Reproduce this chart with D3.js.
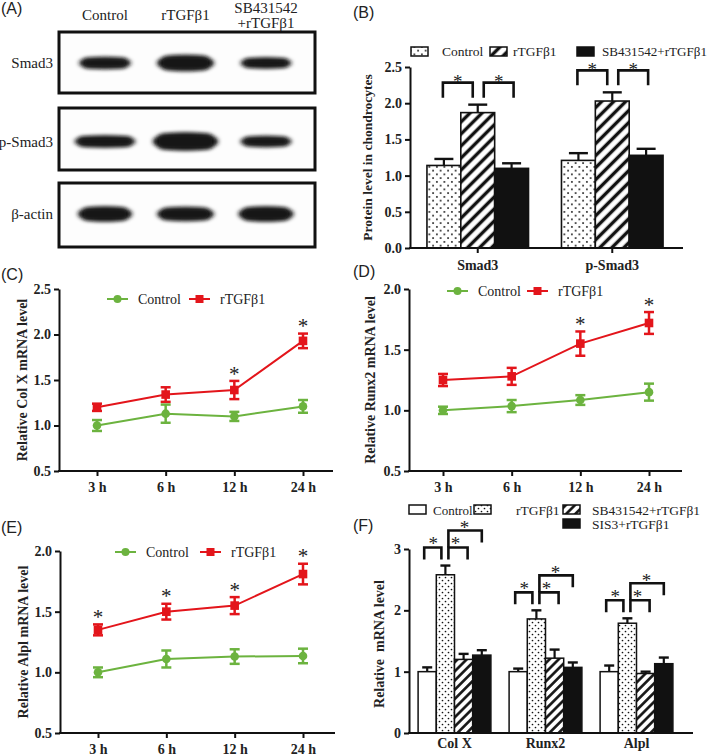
<!DOCTYPE html>
<html><head><meta charset="utf-8">
<script src="https://cdn.jsdelivr.net/npm/d3@7"></script>
<style>body{margin:0;background:#fff;} svg{display:block;}</style>
</head><body><svg id="fig" width="709" height="756"></svg>
<script>
// ================= DATA =================
// (A) western blot: band widths / thicknesses per lane
const blotLanes = ["Control", "rTGFβ1", "SB431542+rTGFβ1"];
const blotRows = ["Smad3", "p-Smad3", "β-actin"];
const bandWidthSmad3 = [53, 58, 52];
const bandThickSmad3 = [9, 13, 8];
const bandWidthPSmad3 = [62, 66, 52];
const bandThickPSmad3 = [9, 15, 8];
const bandWidthActin = [55, 58, 56];
const bandThickActin = [12, 11, 12];

// (B) protein level
const proteinGroups = ["Smad3", "p-Smad3"];
const proteinSeries = ["Control", "rTGFβ1", "SB431542+rTGFβ1"];
const proteinControl = [1.14, 1.21];
const proteinControlErr = [0.09, 0.10];
const proteinTGF = [1.87, 2.03];
const proteinTGFErr = [0.11, 0.12];
const proteinSB = [1.10, 1.28];
const proteinSBErr = [0.07, 0.09];
const proteinTicks = [0.0, 0.5, 1.0, 1.5, 2.0, 2.5];

// (C)(D)(E) time courses
const timeLabels = ["3 h", "6 h", "12 h", "24 h"];
const colXControl = [1.00, 1.13, 1.10, 1.21];
const colXControlErr = [0.06, 0.10, 0.05, 0.07];
const colXTGF = [1.20, 1.34, 1.39, 1.93];
const colXTGFErr = [0.04, 0.08, 0.10, 0.08];
const colXStars = [false, false, true, true];
const colXTicks = [0.5, 1.0, 1.5, 2.0, 2.5];

const runx2Control = [1.00, 1.035, 1.085, 1.15];
const runx2ControlErr = [0.03, 0.05, 0.04, 0.07];
const runx2TGF = [1.25, 1.28, 1.55, 1.72];
const runx2TGFErr = [0.05, 0.07, 0.10, 0.09];
const runx2Stars = [false, false, true, true];
const runx2Ticks = [0.5, 1.0, 1.5, 2.0];

const alplControl = [1.00, 1.11, 1.13, 1.135];
const alplControlErr = [0.04, 0.07, 0.06, 0.06];
const alplTGF = [1.35, 1.50, 1.55, 1.81];
const alplTGFErr = [0.045, 0.065, 0.07, 0.085];
const alplStars = [true, true, true, true];
const alplTicks = [0.5, 1.0, 1.5, 2.0];

// (F) relative mRNA
const mrnaGenes = ["Col X", "Runx2", "Alpl"];
const mrnaSeries = ["Control", "rTGFβ1", "SB431542+rTGFβ1", "SIS3+rTGFβ1"];
const mrnaControl = [1.00, 1.00, 1.00];
const mrnaControlErr = [0.07, 0.05, 0.10];
const mrnaTGF = [2.58, 1.86, 1.79];
const mrnaTGFErr = [0.15, 0.14, 0.08];
const mrnaSB = [1.20, 1.22, 0.97];
const mrnaSBErr = [0.09, 0.14, 0.03];
const mrnaSIS3 = [1.27, 1.07, 1.13];
const mrnaSIS3Err = [0.08, 0.08, 0.10];
const mrnaTicks = [0, 1, 2, 3];

// ================= DRAWING =================
const SERIF = "Liberation Serif, Times New Roman, serif";
const SANS = "Liberation Sans, Arial, sans-serif";
const GREEN = "#6cb33f", RED = "#e3151b", INK = "#111";
const svg = d3.select("#fig");
const defs = svg.append("defs");

// patterns
function dotPattern(id, s, r) {
  const p = defs.append("pattern").attr("id", id).attr("patternUnits", "userSpaceOnUse")
    .attr("width", s).attr("height", s);
  p.append("rect").attr("width", s).attr("height", s).attr("fill", "#fff");
  p.append("circle").attr("cx", s * 0.25).attr("cy", s * 0.25).attr("r", r).attr("fill", INK);
  p.append("circle").attr("cx", s * 0.75).attr("cy", s * 0.75).attr("r", r).attr("fill", INK);
}
function hatchPattern(id, s, w) {
  const p = defs.append("pattern").attr("id", id).attr("patternUnits", "userSpaceOnUse")
    .attr("width", s).attr("height", s).attr("patternTransform", "rotate(45)");
  p.append("rect").attr("width", s).attr("height", s).attr("fill", "#fff");
  p.append("line").attr("x1", s / 2).attr("x2", s / 2).attr("y1", 0).attr("y2", s)
    .attr("stroke", INK).attr("stroke-width", w);
}
dotPattern("dotsB", 7.5, 0.95);
hatchPattern("hatchB", 8.5, 3.4);
dotPattern("dotsF", 6, 0.85);
hatchPattern("hatchF", 6.5, 2.6);
const blur = defs.append("filter").attr("id", "blur").attr("x", "-20%").attr("y", "-80%")
  .attr("width", "140%").attr("height", "260%");
blur.append("feGaussianBlur").attr("stdDeviation", 2);

function txt(g, x, y, s, opts = {}) {
  const t = g.append("text").attr("x", x).attr("y", y).text(s)
    .style("font-family", opts.family || SERIF).attr("font-size", opts.size || 14)
    .attr("fill", "#222").attr("text-anchor", opts.anchor || "start");
  if (opts.bold) t.attr("font-weight", "bold");
  if (opts.len) t.attr("textLength", opts.len).attr("lengthAdjust", "spacingAndGlyphs");
  return t;
}

// panel labels
const panelLabels = [["(A)", 1, 14], ["(B)", 353, 18], ["(C)", 1, 280], ["(D)", 353, 277], ["(E)", 1, 533], ["(F)", 353, 531]];
panelLabels.forEach(d => txt(svg, d[1], d[2], d[0], { family: SANS, size: 16 }));

// ---------- (A) Western blot ----------
(function () {
  const g = svg.append("g");
  const x = d3.scalePoint().domain(blotLanes).range([105, 266]);
  const rowY = d3.scalePoint().domain(blotRows).range([63, 214]);
  const boxes = [[32, 93], [108, 170], [183, 247]];
  const widths = [bandWidthSmad3, bandWidthPSmad3, bandWidthActin];
  const thick = [bandThickSmad3, bandThickPSmad3, bandThickActin];
  blotRows.forEach((row, i) => {
    g.append("rect").attr("x", 59).attr("y", boxes[i][0]).attr("width", 256)
      .attr("height", boxes[i][1] - boxes[i][0]).attr("fill", "#fdfdfd")
      .attr("stroke", INK).attr("stroke-width", 3);
    const cy = rowY(row) + (i === 1 ? 3 : 0);
    g.selectAll(null).data(blotLanes).join("ellipse")
      .attr("cx", d => x(d))
      .attr("cy", cy)
      .attr("rx", (d, j) => widths[i][j] / 2)
      .attr("ry", (d, j) => thick[i][j] / 2 + 1)
      .attr("fill", "#141414").attr("filter", "url(#blur)");
    g.selectAll(null).data(blotLanes).join("rect")
      .attr("x", (d, j) => x(d) - widths[i][j] / 2 + 4)
      .attr("y", (d, j) => cy - thick[i][j] / 2)
      .attr("width", (d, j) => widths[i][j] - 8)
      .attr("height", (d, j) => thick[i][j])
      .attr("rx", (d, j) => thick[i][j] / 2)
      .attr("fill", "#141414").attr("filter", "url(#blur)");
    txt(g, 53, cy + 5, row, { size: 15, anchor: "end" });
  });
  txt(g, x(blotLanes[0]), 20, blotLanes[0], { size: 15, anchor: "middle" });
  txt(g, x(blotLanes[1]), 20, blotLanes[1], { size: 15, anchor: "middle" });
  txt(g, x(blotLanes[2]), 13, "SB431542", { size: 15, anchor: "middle" });
  txt(g, x(blotLanes[2]), 28, "+rTGFβ1", { size: 15, anchor: "middle" });
})();

// ---------- axis styling helper ----------
function styleAxis(sel, fs) {
  sel.attr("font-family", null);
  sel.select(".domain").attr("stroke", INK).attr("stroke-width", 2);
  sel.selectAll(".tick line").attr("stroke", INK).attr("stroke-width", 2);
  sel.selectAll(".tick text").style("font-family", SERIF).attr("font-weight", "bold")
    .attr("font-size", fs).attr("fill", "#222");
}
function star(g, x, y, size) {
  txt(g, x, y + size * 0.6, "*", { size: size, anchor: "middle" });
}

// ---------- line panels (C)(D)(E) ----------
function linePanel(c) {
  const g = svg.append("g");
  const y = d3.scaleLinear().domain([c.ticks[0], c.ticks[c.ticks.length - 1]]).range([c.yBottom, c.yTop]);
  const x = d3.scalePoint().domain(timeLabels).range(c.xRange);
  const ya = g.append("g").attr("transform", `translate(${c.axisX},0)`)
    .call(d3.axisLeft(y).tickValues(c.ticks).tickFormat(d3.format(".1f")).tickSize(5).tickSizeOuter(0));
  styleAxis(ya, 14);
  const xa = g.append("g").attr("transform", `translate(0,${c.yBottom})`)
    .call(d3.axisBottom(x).tickSize(5).tickSizeOuter(0).tickPadding(6));
  styleAxis(xa, 14);
  xa.select(".domain").remove();
  g.append("line").attr("x1", c.axisX - 1).attr("x2", c.axisEnd).attr("y1", c.yBottom).attr("y2", c.yBottom)
    .attr("stroke", INK).attr("stroke-width", 2);
  txt(g, 0, 0, c.title, { size: 14, bold: true, anchor: "middle" })
    .attr("transform", `translate(${c.titleX},${(c.yTop + c.yBottom) / 2}) rotate(-90)`);

  const series = [
    { v: c.ctrl, e: c.ctrlErr, col: GREEN, shape: "circle" },
    { v: c.tgf, e: c.tgfErr, col: RED, shape: "square" }
  ];
  const line = d3.line().x((d, i) => x(timeLabels[i])).y(d => y(d));
  series.forEach(s => {
    g.append("path").attr("d", line(s.v)).attr("fill", "none").attr("stroke", s.col).attr("stroke-width", 2);
    s.v.forEach((v, i) => {
      const xi = x(timeLabels[i]);
      g.append("line").attr("x1", xi).attr("x2", xi).attr("y1", y(v - s.e[i])).attr("y2", y(v + s.e[i]))
        .attr("stroke", s.col).attr("stroke-width", 2.5);
      [v - s.e[i], v + s.e[i]].forEach(ev => g.append("line").attr("x1", xi - 5).attr("x2", xi + 5)
        .attr("y1", y(ev)).attr("y2", y(ev)).attr("stroke", s.col).attr("stroke-width", 2.5));
      if (s.shape === "circle") g.append("circle").attr("cx", xi).attr("cy", y(v)).attr("r", 4.3).attr("fill", s.col);
      else g.append("rect").attr("x", xi - 4.3).attr("y", y(v) - 4.3).attr("width", 8.6).attr("height", 8.6).attr("fill", s.col);
    });
  });
  c.stars.forEach((s, i) => { if (s) star(g, x(timeLabels[i]), y(c.tgf[i] + c.tgfErr[i]) - 13, 21); });

  // legend
  const lg = g.append("g").attr("transform", `translate(${c.legX},${c.legY})`);
  [[GREEN, "circle", "Control", 0], [RED, "square", "rTGFβ1", c.legStep]].forEach(([col, sh, lab, dx]) => {
    lg.append("line").attr("x1", dx).attr("x2", dx + 21).attr("stroke", col).attr("stroke-width", 2);
    if (sh === "circle") lg.append("circle").attr("cx", dx + 10.5).attr("r", 4).attr("fill", col);
    else lg.append("rect").attr("x", dx + 6.5).attr("y", -4).attr("width", 8).attr("height", 8).attr("fill", col);
    txt(lg, dx + 31, 5, lab, { size: 14 });
  });
}

linePanel({ axisX: 59, axisEnd: 333, yTop: 289, yBottom: 471, xRange: [97, 303], ticks: colXTicks,
  ctrl: colXControl, ctrlErr: colXControlErr, tgf: colXTGF, tgfErr: colXTGFErr, stars: colXStars,
  title: "Relative Col X mRNA level", titleX: 27, legX: 107, legY: 299, legStep: 82 });
linePanel({ axisX: 409, axisEnd: 682, yTop: 289, yBottom: 471, xRange: [443, 649], ticks: runx2Ticks,
  ctrl: runx2Control, ctrlErr: runx2ControlErr, tgf: runx2TGF, tgfErr: runx2TGFErr, stars: runx2Stars,
  title: "Relative Runx2 mRNA level", titleX: 375, legX: 447, legY: 291, legStep: 80 });
linePanel({ axisX: 60, axisEnd: 335, yTop: 551, yBottom: 733, xRange: [98, 303], ticks: alplTicks,
  ctrl: alplControl, ctrlErr: alplControlErr, tgf: alplTGF, tgfErr: alplTGFErr, stars: alplStars,
  title: "Relative Alpl mRNA level", titleX: 28, legX: 115, legY: 552, legStep: 85 });

// ---------- bar panels ----------
function bracket(g, x1, x2, yTop, yLeg1, yLeg2) {
  g.append("path").attr("d", `M${x1},${yLeg1}V${yTop}H${x2}V${yLeg2}`)
    .attr("fill", "none").attr("stroke", INK).attr("stroke-width", 2.6);
}

// (B)
(function () {
  const g = svg.append("g");
  const axisX = 410, axisEnd = 683, yB = 248, yT = 67;
  const y = d3.scaleLinear().domain([0, 2.5]).range([yB, yT]);
  const x0 = d3.scaleBand().domain(proteinGroups).range([410, 680]).paddingInner(0.245).paddingOuter(0.126);
  const x1 = d3.scaleBand().domain(proteinSeries).range([0, x0.bandwidth()]);
  const vals = [proteinControl, proteinTGF, proteinSB];
  const errs = [proteinControlErr, proteinTGFErr, proteinSBErr];
  const fills = ["url(#dotsB)", "url(#hatchB)", INK];
  proteinGroups.forEach((grp, gi) => {
    proteinSeries.forEach((s, si) => {
      const bx = x0(grp) + x1(s), bw = x1.bandwidth(), v = vals[si][gi], e = errs[si][gi];
      const cx = bx + bw / 2;
      g.append("line").attr("x1", cx).attr("x2", cx).attr("y1", y(v)).attr("y2", y(v + e)).attr("stroke", INK).attr("stroke-width", 2.2);
      g.append("line").attr("x1", cx - 9.5).attr("x2", cx + 9.5).attr("y1", y(v + e)).attr("y2", y(v + e)).attr("stroke", INK).attr("stroke-width", 2.4);
      g.append("rect").attr("x", bx).attr("y", y(v)).attr("width", bw).attr("height", yB - y(v))
        .attr("fill", fills[si]).attr("stroke", INK).attr("stroke-width", 1.6);
    });
    const c = proteinSeries.map(s => x0(grp) + x1(s) + x1.bandwidth() / 2);
    const top = y(proteinTGF[gi] + proteinTGFErr[gi]);
    const leg = top - 7, bt = leg - 15;
    bracket(g, c[0] - 1, c[1] - 5, bt, leg, leg);
    bracket(g, c[1] + 6, c[2] + 2, bt, leg, leg);
    star(g, (c[0] + c[1]) / 2 - 3, bt - 6, 19);
    star(g, (c[1] + c[2]) / 2 + 4, bt - 6, 19);
  });
  const ya = g.append("g").attr("transform", `translate(${axisX},0)`)
    .call(d3.axisLeft(y).tickValues(proteinTicks).tickFormat(d3.format(".1f")).tickSize(5).tickSizeOuter(0));
  styleAxis(ya, 14);
  const xa = g.append("g").attr("transform", `translate(0,${yB})`)
    .call(d3.axisBottom(x0).tickSize(5).tickSizeOuter(0).tickPadding(7));
  styleAxis(xa, 14);
  xa.select(".domain").remove();
  g.append("line").attr("x1", axisX - 1).attr("x2", axisEnd).attr("y1", yB).attr("y2", yB).attr("stroke", INK).attr("stroke-width", 2);
  txt(g, 0, 0, "Protein level in chondrocytes", { size: 13.5, bold: true, anchor: "middle" })
    .attr("transform", `translate(372,${(yT + yB) / 2}) rotate(-90)`);
  // legend
  const legX = [411, 490, 577], legT = [442, 513, 602];
  proteinSeries.forEach((s, i) => {
    g.append("rect").attr("x", legX[i]).attr("y", 47).attr("width", 17).attr("height", 9)
      .attr("fill", fills[i]).attr("stroke", INK).attr("stroke-width", 1.5);
    txt(g, legT[i], 56, s, { size: 13.5, len: i === 2 ? 105 : null });
  });
})();

// (F)
(function () {
  const g = svg.append("g");
  const axisX = 409, axisEnd = 693, yB = 733, yT = 549;
  const y = d3.scaleLinear().domain([0, 3]).range([yB, yT]);
  const x0 = d3.scaleBand().domain(mrnaGenes).range([409, 682]).paddingInner(0.2).paddingOuter(0.1);
  const x1 = d3.scaleBand().domain(mrnaSeries).range([0, x0.bandwidth()]);
  const vals = [mrnaControl, mrnaTGF, mrnaSB, mrnaSIS3];
  const errs = [mrnaControlErr, mrnaTGFErr, mrnaSBErr, mrnaSIS3Err];
  const fills = ["#fff", "url(#dotsF)", "url(#hatchF)", INK];
  mrnaGenes.forEach((gene, gi) => {
    mrnaSeries.forEach((s, si) => {
      const bx = x0(gene) + x1(s), bw = x1.bandwidth(), v = vals[si][gi], e = errs[si][gi];
      const cx = bx + bw / 2;
      g.append("line").attr("x1", cx).attr("x2", cx).attr("y1", y(v)).attr("y2", y(v + e)).attr("stroke", INK).attr("stroke-width", 2.2);
      g.append("line").attr("x1", cx - 5).attr("x2", cx + 5).attr("y1", y(v + e)).attr("y2", y(v + e)).attr("stroke", INK).attr("stroke-width", 2.4);
      g.append("rect").attr("x", bx).attr("y", y(v)).attr("width", bw).attr("height", yB - y(v))
        .attr("fill", fills[si]).attr("stroke", INK).attr("stroke-width", 1.5);
    });
    const c = mrnaSeries.map(s => x0(gene) + x1(s) + x1.bandwidth() / 2);
    const top = y(mrnaTGF[gi] + mrnaTGFErr[gi]);
    const leg = top - 6, bt = leg - 12, bigT = bt - 17, bigLeg = bigT + 12;
    bracket(g, c[0] - 3, c[1] - 4, bt, leg, leg);
    bracket(g, c[1] + 3, c[2] + 4, bt, leg, leg);
    bracket(g, c[1] + 3, c[3], bigT, bt, bigLeg);
    star(g, (c[0] + c[1]) / 2 - 3, bt - 9, 19);
    star(g, (c[1] + c[2]) / 2 + 1, bt - 9, 19);
    star(g, (c[1] + c[3]) / 2 + 1, bigT - 8, 19);
  });
  const ya = g.append("g").attr("transform", `translate(${axisX},0)`)
    .call(d3.axisLeft(y).tickValues(mrnaTicks).tickFormat(d3.format("d")).tickSize(5).tickSizeOuter(0));
  styleAxis(ya, 14);
  const xa = g.append("g").attr("transform", `translate(0,${yB})`)
    .call(d3.axisBottom(x0).tickSize(0).tickSizeOuter(0).tickPadding(5));
  styleAxis(xa, 14);
  xa.select(".domain").remove();
  g.append("line").attr("x1", axisX - 1).attr("x2", axisEnd).attr("y1", yB).attr("y2", yB).attr("stroke", INK).attr("stroke-width", 2);
  txt(g, 0, 0, "Relative  mRNA level", { size: 14, bold: true, anchor: "middle" })
    .attr("xml:space", "preserve").style("white-space", "pre")
    .attr("transform", `translate(384,${(yT + yB) / 2 + 3}) rotate(-90)`);
  // legend
  const leg = [[409, 505, 433], [474, 505, 516], [563, 505, 592], [563, 519, 592]];
  mrnaSeries.forEach((s, i) => {
    g.append("rect").attr("x", leg[i][0]).attr("y", leg[i][1]).attr("width", 17).attr("height", 9)
      .attr("fill", fills[i]).attr("stroke", INK).attr("stroke-width", 1.5);
    txt(g, leg[i][2], leg[i][1] + 9.5, s, { size: i === 0 ? 13 : 13.5, len: i === 2 ? 108 : null });
  });
})();
</script></body></html>
